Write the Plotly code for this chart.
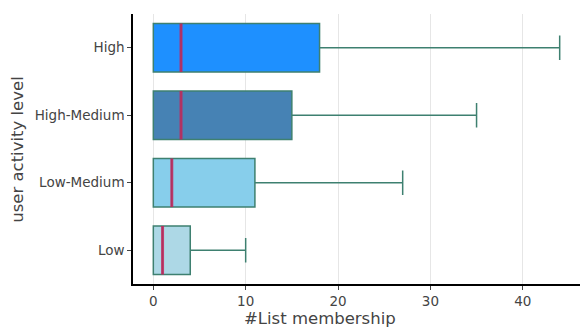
import plotly.graph_objects as go

categories = ["Low", "Low-Medium", "High-Medium", "High"]
lower = [0, 0, 0, 0]
q1 = [0, 0, 0, 0]
medians = [1, 2, 3, 3]
q3 = [4, 11, 15, 18]
upper = [10, 27, 35, 44]
fills = ["#add8e6", "#87ceeb", "#4682b4", "#1e90ff"]

edge = "rgb(62,128,112)"
median_color = "rgba(205,30,90,0.8)"
box_w = 0.72

fig = go.Figure()
for i, cat in enumerate(categories):
    fig.add_trace(go.Box(
        y=[i], q1=[q1[i]], median=[medians[i]], q3=[q3[i]],
        lowerfence=[lower[i]], upperfence=[upper[i]],
        orientation="h", width=box_w, whiskerwidth=0.5,
        fillcolor=fills[i], line=dict(color=edge, width=1.5),
        name=cat, showlegend=False, hoverinfo="skip",
    ))
for i, cat in enumerate(categories):
    fig.add_trace(go.Scatter(
        x=[medians[i], medians[i]], y=[i - box_w / 2, i + box_w / 2],
        mode="lines", line=dict(color=median_color, width=3),
        showlegend=False, hoverinfo="skip",
    ))

fig.update_layout(
    width=580, height=331,
    margin=dict(l=133, r=0, t=14, b=47),
    paper_bgcolor="white", plot_bgcolor="white",
    font=dict(family="DejaVu Sans", color="#444", size=13.5),
    annotations=[
        dict(text="#List membership", xref="paper", yref="paper",
             x=0.418, y=-0.17, xanchor="center", yanchor="bottom",
             showarrow=False, font=dict(size=16.5, color="#444")),
        dict(text="user activity level", xref="paper", yref="paper",
             x=-0.26, y=0.5, xanchor="center", yanchor="middle", textangle=-90,
             showarrow=False, font=dict(size=16.5, color="#444")),
    ],
)
fig.update_xaxes(
    range=[-2.2, 46.2], tickvals=[0, 10, 20, 30, 40],
    showgrid=True, gridcolor="#e6e6e6", gridwidth=1,
    showline=True, linecolor="black", linewidth=1.5,
    ticks="outside", ticklen=4, tickcolor="#444",
    zeroline=False,
)
fig.update_yaxes(
    range=[-0.5, 3.5], tickvals=list(range(len(categories))), ticktext=categories,
    showgrid=False, showline=True, linecolor="black", linewidth=1.5,
    ticks="outside", ticklen=4, tickcolor="#444", zeroline=False,
)
fig.write_html("out.html")
